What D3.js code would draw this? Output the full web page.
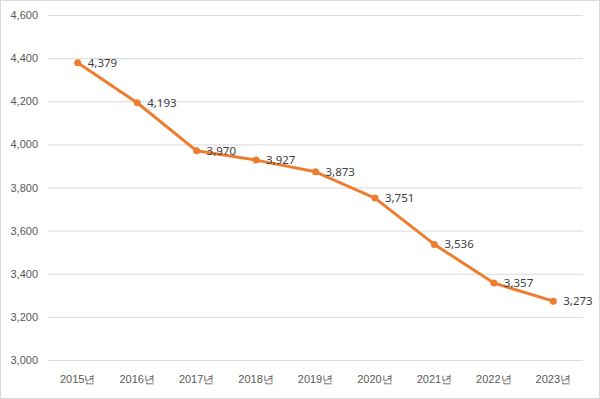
<!DOCTYPE html>
<html>
<head>
<meta charset="utf-8">
<script src="https://cdn.jsdelivr.net/npm/d3@7"></script>
<style>
  body { margin: 0; background: #fff; }
  svg { display: block; font-family: "Noto Sans", "Noto Sans CJK KR", sans-serif; }
</style>
</head>
<body>
<div id="chart"></div>
<script>
const years = ["2015년", "2016년", "2017년", "2018년", "2019년", "2020년", "2021년", "2022년", "2023년"];
const values = [4379, 4193, 3970, 3927, 3873, 3751, 3536, 3357, 3273];
const yTicks = [3000, 3200, 3400, 3600, 3800, 4000, 4200, 4400, 4600];

const width = 600;
const height = 399;
const margin = { top: 15, right: 17, bottom: 39, left: 48 };

const svg = d3.select("#chart")
    .append("svg")
    .attr("width", width)
    .attr("height", height);

// chart border
svg.append("rect")
    .attr("x", 0.5).attr("y", 0.5)
    .attr("width", width - 1).attr("height", height - 1)
    .attr("fill", "#fff")
    .attr("stroke", "#d9d9d9");

const x = d3.scaleBand()
    .domain(years)
    .range([margin.left, width - margin.right]);

const y = d3.scaleLinear()
    .domain([3000, 4600])
    .range([height - margin.bottom, margin.top]);

// gridlines + y labels
const yAxis = svg.append("g")
    .attr("transform", "translate(" + margin.left + ",0)")
    .call(d3.axisLeft(y).tickValues(yTicks).tickFormat(d3.format(",")).tickSize(-(width - margin.left - margin.right)).tickPadding(10));
yAxis.select(".domain").remove();
yAxis.selectAll("line").attr("stroke", "#d9d9d9");
yAxis.selectAll("text").attr("fill", "#595959").style("font-size", "11px");

// x labels
const xAxis = svg.append("g")
    .attr("transform", "translate(0," + (height - margin.bottom) + ")")
    .call(d3.axisBottom(x).tickSize(0).tickPadding(15));
xAxis.select(".domain").remove();
xAxis.selectAll("text").attr("fill", "#595959").style("font-size", "11px");

const cx = function(d, i) { return x(years[i]) + x.bandwidth() / 2; };

const line = d3.line()
    .x(cx)
    .y(function(d) { return y(d); });

svg.append("path")
    .datum(values)
    .attr("d", line)
    .attr("fill", "none")
    .attr("stroke", "#ed7d31")
    .attr("stroke-width", 3)
    .attr("stroke-linejoin", "round");

svg.selectAll("circle.pt")
    .data(values)
    .enter()
    .append("circle")
    .attr("class", "pt")
    .attr("cx", cx)
    .attr("cy", function(d) { return y(d); })
    .attr("r", 3.5)
    .attr("fill", "#ed7d31");

// data labels, right of each point
svg.selectAll("text.lbl")
    .data(values)
    .enter()
    .append("text")
    .attr("class", "lbl")
    .attr("x", function(d, i) { return cx(d, i) + 10; })
    .attr("y", function(d) { return y(d) + 4; })
    .attr("fill", "#404040")
    .style("font-size", "11.5px")
    .text(d3.format(","));
</script>
</body>
</html>
